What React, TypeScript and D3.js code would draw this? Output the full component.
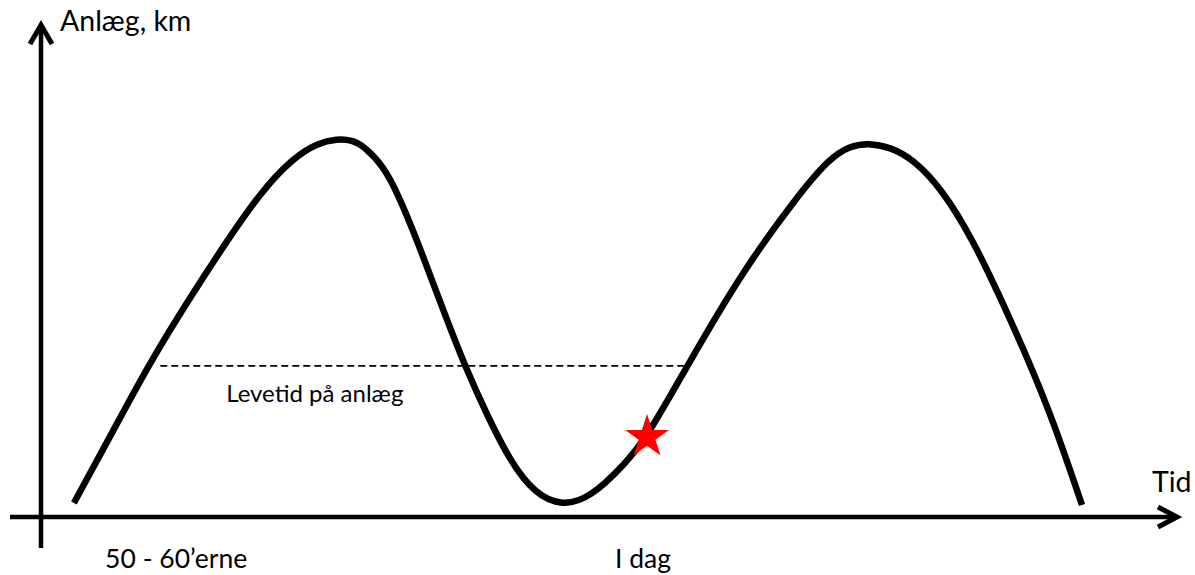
import React from "react";
import * as d3 from "d3";

// Time (0-100) and installed length (0-100)
const curveTime = [2.90, 6.25, 9.60, 13.38, 16.37, 19.28, 22.18, 24.38, 26.06, 27.38, 28.52, 30.11, 31.34, 32.92, 34.24, 35.74, 37.32, 39.26, 41.29, 43.49, 45.88, 48.33, 51.41, 53.35, 56.78, 61.53, 66.64, 69.45, 71.21, 72.80, 74.74, 76.76, 79.31, 82.04, 84.42, 86.80, 89.08, 91.64];
const curveValue = [2.85, 17.07, 31.50, 45.53, 56.10, 65.85, 72.97, 76.02, 76.83, 76.63, 75.20, 71.34, 66.06, 57.32, 49.19, 40.04, 30.69, 20.73, 11.38, 4.67, 2.24, 3.86, 10.77, 16.26, 30.28, 49.19, 65.45, 72.97, 75.41, 76.02, 75.20, 72.76, 66.67, 56.30, 44.72, 32.52, 19.72, 2.44];

const lifespanStart = 10.5;
const lifespanEnd = 56.8;
const lifespanLevel = 30.7;
const lifespanLabel = "Levetid på anlæg";
const lifespanLabelTime = 24.1;

const todayTime = 53.35;
const todayValue = 16.26;

const tickTimes = [11.9, 53.0];
const tickLabels = ["50 - 60\u2019erne", "I dag"];

const yAxisTitle = "Anlæg, km";
const xAxisTitle = "Tid";

const W = 1195;
const H = 575;

export default function App() {
  const x = d3.scaleLinear().domain([0, 100]).range([41, 1177]);
  const y = d3.scaleLinear().domain([0, 100]).range([517, 25]);

  const pts: [number, number][] = curveTime.map((t, i) => [t, curveValue[i]]);
  const line = d3
    .line<[number, number]>()
    .x((d) => x(d[0]))
    .y((d) => y(d[1]))
    .curve(d3.curveBasis);

  const starR = 23;
  const star = d3.symbol().type(d3.symbolStar).size((starR * starR) / 0.8908130915292852)();

  const x0 = x(0);
  const y0 = y(0);
  const yTop = y(100);
  const xRight = x(100);
  const font = "Lato, 'Open Sans', sans-serif";

  return (
    <svg
      width={W}
      height={H}
      style={{ position: "fixed", left: 0, top: 0, display: "block", background: "#fff" }}
    >
      {/* y axis */}
      <line x1={x0} y1={548} x2={x0} y2={yTop + 1} stroke="#000" strokeWidth={4.5} />
      <polyline
        points={`${x0 - 11},${yTop + 19} ${x0},${yTop} ${x0 + 11},${yTop + 19}`}
        fill="none"
        stroke="#000"
        strokeWidth={5}
        strokeLinejoin="miter"
      />
      {/* x axis */}
      <line x1={10} y1={y0} x2={xRight - 1} y2={y0} stroke="#000" strokeWidth={4.5} />
      <polyline
        points={`${xRight - 19},${y0 - 10} ${xRight},${y0} ${xRight - 19},${y0 + 10}`}
        fill="none"
        stroke="#000"
        strokeWidth={5}
        strokeLinejoin="miter"
      />

      {/* lifespan dashed line */}
      <line
        x1={x(lifespanStart)}
        x2={x(lifespanEnd)}
        y1={y(lifespanLevel)}
        y2={y(lifespanLevel)}
        stroke="#000"
        strokeWidth={1.8}
        strokeDasharray="7,4"
      />
      <text
        x={x(lifespanLabelTime)}
        y={y(lifespanLevel) + 36}
        fontFamily={font}
        fontSize={24}
        textAnchor="middle"
        fill="#000"
      >
        {lifespanLabel}
      </text>

      {/* curve */}
      <path d={line(pts) || ""} fill="none" stroke="#000" strokeWidth={6.5} strokeLinecap="butt" />

      {/* today star */}
      <path d={star || ""} transform={`translate(${x(todayTime)},${y(todayValue)})`} fill="#ff0000" />

      {/* tick labels */}
      {tickLabels.map((lab, i) => (
        <text
          key={lab}
          x={x(tickTimes[i])}
          y={568}
          fontFamily={font}
          fontSize={26.5}
          textAnchor="middle"
          fill="#000"
        >
          {lab}
        </text>
      ))}

      {/* axis titles */}
      <text x={60} y={31} fontFamily={font} fontSize={28.5} fill="#000">
        {yAxisTitle}
      </text>
      <text x={1152} y={492} fontFamily={font} fontSize={28.5} fill="#000">
        {xAxisTitle}
      </text>
    </svg>
  );
}
